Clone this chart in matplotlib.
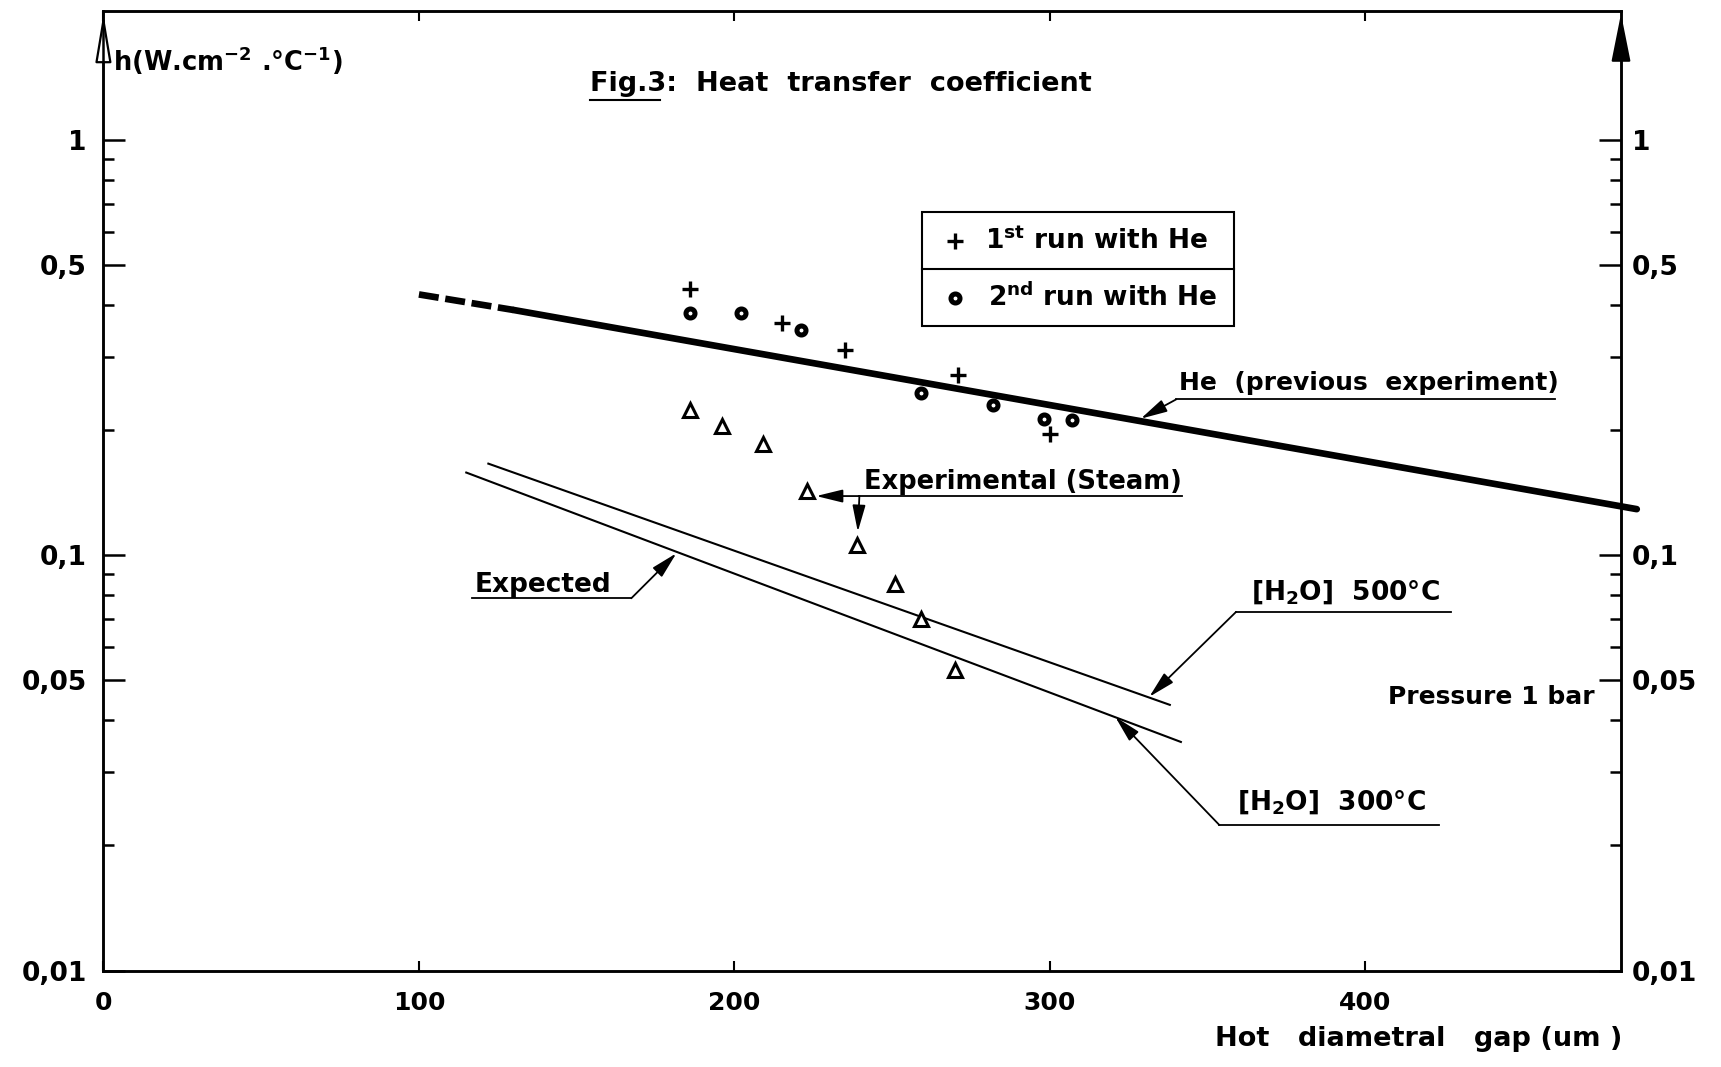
import numpy as np
import matplotlib
matplotlib.use("Agg")
import matplotlib.pyplot as plt
from matplotlib.patches import Rectangle
from matplotlib.ticker import FixedLocator, FixedFormatter, NullFormatter

plt.rcParams['font.family'] = ['DejaVu Sans']
plt.rcParams['font.weight'] = 'bold'
plt.rcParams['mathtext.default'] = 'bf'

# Valeurs (gap en um, h en W/cm2/°C)
he_prev_dash_x = [100, 130]
he_prev_dash_h = [0.424, 0.389]
he_prev_x = [130, 486]
he_prev_h = [0.389, 0.129]

run1_x = [186, 215, 235, 271, 300]
run1_h = [0.438, 0.362, 0.311, 0.271, 0.196]

run2_x = [186, 202, 221, 259, 282, 298, 307]
run2_h = [0.383, 0.383, 0.348, 0.245, 0.230, 0.213, 0.211]

steam_x = [186, 196, 209, 223, 239, 251, 259, 270]
steam_h = [0.223, 0.204, 0.185, 0.143, 0.106, 0.085, 0.070, 0.053]

exp500_x = [122, 338]
exp500_h = [0.166, 0.0436]
exp300_x = [115, 341.5]
exp300_h = [0.158, 0.0355]

y_major = [0.01, 0.05, 0.1, 0.5, 1]
y_major_labels = ['0,01', '0,05', '0,1', '0,5', '1']
y_minor = [0.02, 0.03, 0.04, 0.06, 0.07, 0.08, 0.09,
           0.2, 0.3, 0.4, 0.6, 0.7, 0.8, 0.9]
x_ticks = [0, 100, 200, 300, 400]
x_labels = ['0', '100', '200', '300', '400']

fig = plt.figure(figsize=(17.21, 10.67), dpi=100)
ax = fig.add_axes([0.0601, 0.0904, 0.8818, 0.8993])
ax.set_yscale('log')
ax.set_xlim(0, 481)
ax.set_ylim(0.01, 2.04)

for sp in ax.spines.values():
    sp.set_linewidth(1.8)

# axes
ax.yaxis.set_major_locator(FixedLocator(y_major))
ax.yaxis.set_major_formatter(FixedFormatter(y_major_labels))
ax.yaxis.set_minor_locator(FixedLocator(y_minor))
ax.yaxis.set_minor_formatter(NullFormatter())
ax.tick_params(axis='y', which='major', direction='in', length=16, width=1.8,
               labelsize=19, pad=12)
ax.tick_params(axis='y', which='minor', direction='in', length=8, width=1.8)
ax.set_xticks(x_ticks)
ax.set_xticklabels(x_labels)
ax.tick_params(axis='x', which='major', direction='in', length=7, width=1.5,
               labelsize=18, pad=15, top=True)

ax2 = ax.twinx()
ax2.set_yscale('log')
ax2.set_ylim(0.01, 2.04)
ax2.yaxis.set_major_locator(FixedLocator(y_major))
ax2.yaxis.set_major_formatter(FixedFormatter(y_major_labels))
ax2.yaxis.set_minor_locator(FixedLocator(y_minor))
ax2.yaxis.set_minor_formatter(NullFormatter())
ax2.tick_params(axis='y', which='major', direction='in', length=16, width=1.8,
                labelsize=19, pad=8)
ax2.tick_params(axis='y', which='minor', direction='in', length=8, width=1.8)
for sp in ax2.spines.values():
    sp.set_linewidth(1.8)

# fleches en haut des axes
ax.annotate('', xy=(0, 1.0), xytext=(0, 0.955), xycoords='axes fraction',
            arrowprops=dict(arrowstyle='-|>,head_length=1.5,head_width=0.25',
                            mutation_scale=20, lw=1.6, fc='white', ec='black'))
ax.annotate('', xy=(1, 1.0), xytext=(1, 0.95), xycoords='axes fraction',
            arrowprops=dict(arrowstyle='-|>,head_length=1.5,head_width=0.3',
                            mutation_scale=20, lw=1.5, color='black'))

# courbes
ax.plot(he_prev_dash_x, he_prev_dash_h, color='black', lw=4.8,
        ls=(0, (3, 1)), solid_capstyle='butt')
ax.plot(he_prev_x, he_prev_h, color='black', lw=4.8, clip_on=False,
        solid_capstyle='round')
ax.plot(exp500_x, exp500_h, color='black', lw=1.5)
ax.plot(exp300_x, exp300_h, color='black', lw=1.5)

ax.plot(run1_x, run1_h, ls='none', marker='+', ms=11, mew=2.4, color='black')
ax.plot(run2_x, run2_h, ls='none', marker='o', ms=6.5, mew=3.6,
        mfc='white', mec='black')
ax.plot(steam_x, steam_h, ls='none', marker='^', ms=10, mew=2.2,
        mfc='white', mec='black')


def underline(x0, x1, y):
    ax.plot([x0, x1], [y, y], color='black', lw=1.3)


def leader(x0, y0, x1, y1):
    ax.annotate('', xy=(x1, y1), xytext=(x0, y0),
                arrowprops=dict(arrowstyle='-|>,head_length=0.9,head_width=0.22',
                                mutation_scale=18, lw=1.3, color='black',
                                shrinkA=0, shrinkB=0))


# annotations
ax.text(341, 0.259, 'He  (previous  experiment)', fontsize=18, va='center')
underline(340, 460, 0.237)
leader(340, 0.237, 328.8, 0.213)

ax.text(241, 0.150, 'Experimental (Steam)', fontsize=18.5, va='center')
underline(239.6, 342, 0.1387)
leader(239.6, 0.1387, 225.9, 0.1387)
leader(239.6, 0.1387, 239.1, 0.1138)

ax.text(117.5, 0.0847, 'Expected', fontsize=19, va='center')
underline(116.7, 167.3, 0.0787)
leader(167.3, 0.0787, 181.6, 0.101)

ax.text(363.7, 0.0816, r'[H$_2$O]  500°C', fontsize=19, va='center')
underline(359, 427, 0.0730)
leader(359, 0.0730, 331.5, 0.0456)

ax.text(359.4, 0.0255, r'[H$_2$O]  300°C', fontsize=19, va='center')
underline(353.7, 423.3, 0.0224)
leader(353.7, 0.0224, 320.7, 0.0408)

ax.text(472.5, 0.0455, 'Pressure 1 bar', fontsize=18, va='center', ha='right')

# legende dessinee a la main
ax.add_patch(Rectangle((0.5397, 0.6712), 0.2051, 0.1196, transform=ax.transAxes,
                       fill=False, lw=1.5, ec='black'))
ax.plot([0.5397, 0.7448], [0.7306, 0.7306], transform=ax.transAxes,
        color='black', lw=1.5)
ax.plot([0.561], [0.7607], transform=ax.transAxes, ls='none', marker='+',
        ms=11, mew=2.4, color='black')
ax.plot([0.561], [0.7009], transform=ax.transAxes, ls='none', marker='o',
        ms=6.5, mew=3.6, mfc='white', mec='black')
ax.text(0.5806, 0.7607, r'1$^{st}$ run with He', transform=ax.transAxes,
        fontsize=19, va='center')
ax.text(0.5827, 0.7009, r'2$^{nd}$ run with He', transform=ax.transAxes,
        fontsize=19, va='center')

# titre et libelles
ax.text(0.3209, 0.9234, 'Fig.3:  Heat  transfer  coefficient',
        transform=ax.transAxes, fontsize=19.5, va='center')
ax.plot([0.3209, 0.367], [0.9075, 0.9075], transform=ax.transAxes,
        color='black', lw=1.5)
ax.text(0.0063, 0.9485, r'h(W.cm$^{-2}$ .°C$^{-1}$)', transform=ax.transAxes,
        fontsize=18.5, va='center')
fig.text(0.9425, 0.0259, 'Hot   diametral   gap (um )', fontsize=19.5,
         ha='right', va='center')

fig.savefig('out.png', dpi=100)
